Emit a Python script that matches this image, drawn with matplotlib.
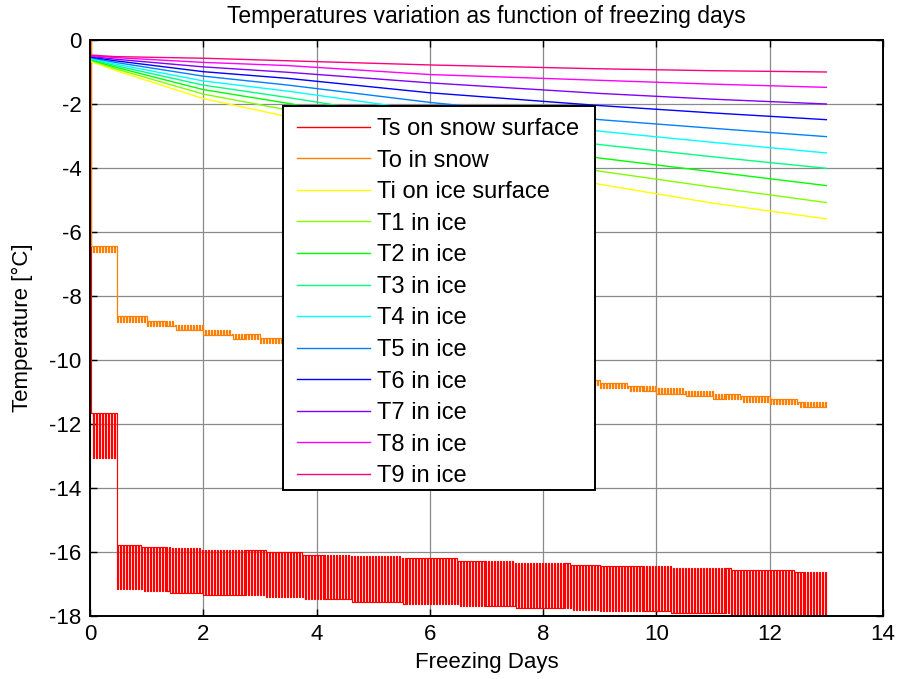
import numpy as np
import matplotlib
matplotlib.use("Agg")
import matplotlib.pyplot as plt
from matplotlib.patches import Rectangle

plt.rcParams['font.family'] = ['Liberation Sans', 'DejaVu Sans']
plt.rcParams['axes.unicode_minus'] = False

# Recording step of the simulation output (days) and length of the run
sample_step = 1.0 / 38.0
end_day = 13.0

# Ts on snow surface: oscillates between two stepped envelope levels
ts_seg_start = [0.0, 0.45, 0.9, 1.4, 1.95, 3.1, 3.75, 4.6, 5.5, 6.5, 7.5, 8.5, 9.0, 10.25, 11.3, 12.4]
ts_upper = [-11.65, -15.78, -15.83, -15.88, -15.95, -16.01, -16.08, -16.14, -16.20, -16.27,
            -16.34, -16.40, -16.45, -16.50, -16.56, -16.62]
ts_lower = [-13.05, -17.15, -17.22, -17.28, -17.34, -17.42, -17.48, -17.55, -17.62, -17.68,
            -17.74, -17.80, -17.84, -17.92, -17.97, -18.02]

# To in snow: small oscillation around a slowly falling level
to_seg_start = [0.0, 0.45, 1.0, 1.5, 2.0, 2.5, 3.0, 3.5, 4.0, 4.5, 5.0, 5.5, 6.0, 6.5,
                7.0, 7.5, 8.0, 8.5, 9.0, 9.5, 10.0, 10.5, 11.0, 11.5, 12.0, 12.5]
to_upper = [-6.45, -8.64, -8.78, -8.91, -9.05, -9.19, -9.32, -9.45, -9.58, -9.71, -9.83,
            -9.95, -10.07, -10.18, -10.29, -10.40, -10.51, -10.61, -10.71, -10.80, -10.89,
            -10.98, -11.06, -11.14, -11.22, -11.30]
to_lower = [-6.62, -8.80, -8.94, -9.07, -9.21, -9.35, -9.48, -9.61, -9.74, -9.87, -9.99,
            -10.11, -10.23, -10.34, -10.45, -10.56, -10.67, -10.77, -10.87, -10.96, -11.05,
            -11.14, -11.22, -11.30, -11.38, -11.46]

# Ice surface and in-ice temperatures
ice_days = [0.0, 0.45, 2.0, 3.5, 6.0, 9.0, 11.0, 13.0]
ti_vals = [-0.66, -0.95, -1.83, -2.40, -3.40, -4.51, -5.10, -5.59]
t1_vals = [-0.63, -0.90, -1.69, -2.19, -3.10, -4.10, -4.60, -5.08]
t2_vals = [-0.61, -0.85, -1.55, -1.98, -2.80, -3.69, -4.12, -4.55]
t3_vals = [-0.59, -0.80, -1.41, -1.80, -2.50, -3.27, -3.65, -4.01]
t4_vals = [-0.57, -0.75, -1.28, -1.60, -2.22, -2.85, -3.20, -3.53]
t5_vals = [-0.55, -0.70, -1.13, -1.41, -1.95, -2.49, -2.76, -3.02]
t6_vals = [-0.53, -0.65, -0.99, -1.20, -1.65, -2.05, -2.28, -2.49]
t7_vals = [-0.51, -0.60, -0.84, -1.01, -1.34, -1.67, -1.85, -2.00]
t8_vals = [-0.49, -0.55, -0.70, -0.80, -1.08, -1.26, -1.38, -1.48]
t9_vals = [-0.47, -0.52, -0.57, -0.65, -0.78, -0.90, -0.96, -1.00]

labels = ["Ts on snow surface", "To in snow", "Ti on ice surface", "T1 in ice", "T2 in ice",
          "T3 in ice", "T4 in ice", "T5 in ice", "T6 in ice", "T7 in ice", "T8 in ice",
          "T9 in ice"]
colors = ["#FF0000", "#FF8000", "#FFFF00", "#80FF00", "#00FF00", "#00FF80", "#00FFFF",
          "#0080FF", "#0000FF", "#8000FF", "#FF00FF", "#FF0080"]


def oscillating_record(seg_start, upper, lower):
    """Alternate between the upper and lower level of the current segment,
    starting from 0 degC at day 0."""
    days = np.arange(0, int(round(end_day / sample_step)) + 1) * sample_step
    seg = np.searchsorted(seg_start, days, side="right") - 1
    up = np.asarray(upper)[seg]
    lo = np.asarray(lower)[seg]
    vals = np.where(np.arange(days.size) % 2 == 1, up, lo)
    vals[0] = 0.0
    return days, vals


fig = plt.figure(figsize=(8.97, 6.79), dpi=100)
ax = fig.add_axes([0.1003, 0.0928, 0.8841, 0.8483])

d, v = oscillating_record(ts_seg_start, ts_upper, ts_lower)
ax.plot(d, v, color=colors[0], lw=0.85, drawstyle="steps-post", label=labels[0])
d, v = oscillating_record(to_seg_start, to_upper, to_lower)
ax.plot(d, v, color=colors[1], lw=0.9, drawstyle="steps-post", label=labels[1])

ice_series = [ti_vals, t1_vals, t2_vals, t3_vals, t4_vals, t5_vals, t6_vals, t7_vals,
              t8_vals, t9_vals]
for vals, col, lab in zip(ice_series, colors[2:], labels[2:]):
    ax.plot(ice_days, vals, color=col, lw=1.0, label=lab)

ax.set_xlim(0, 14)
ax.set_ylim(-18, 0)
ax.set_xticks(np.arange(0, 15, 2))
ax.set_yticks(np.arange(-18, 1, 2))
ax.grid(True, color="#8a8a8a", lw=0.9)
ax.set_axisbelow(True)
ax.tick_params(direction="in", length=5, width=1, top=True, right=True,
               labelsize=16, pad=6)
for s in ax.spines.values():
    s.set_linewidth(1.4)

ax.set_title("Temperatures variation as function of freezing days", fontsize=16.5, pad=12.5)
ax.set_xlabel("Freezing Days", fontsize=16, labelpad=5)
ax.set_ylabel("Temperature [°C]", fontsize=16, labelpad=12)

# Legend box drawn as its own rectangle so its padding can differ per side
legend_box = Rectangle((0.2434, 0.21875), 0.6368 - 0.2434, 0.8854 - 0.21875,
                       transform=ax.transAxes, facecolor="white", edgecolor="black",
                       lw=1.4, zorder=4.9, clip_on=False)
ax.add_patch(legend_box)
leg = ax.legend(loc="upper left", bbox_to_anchor=(0.2611, 0.8645), borderaxespad=0,
                fontsize=17, handlelength=3.1, handletextpad=0.3, labelspacing=0.405,
                borderpad=0.0, frameon=False)
for line in leg.get_lines():
    line.set_linewidth(1.0)

fig.savefig("out.png", dpi=100)
